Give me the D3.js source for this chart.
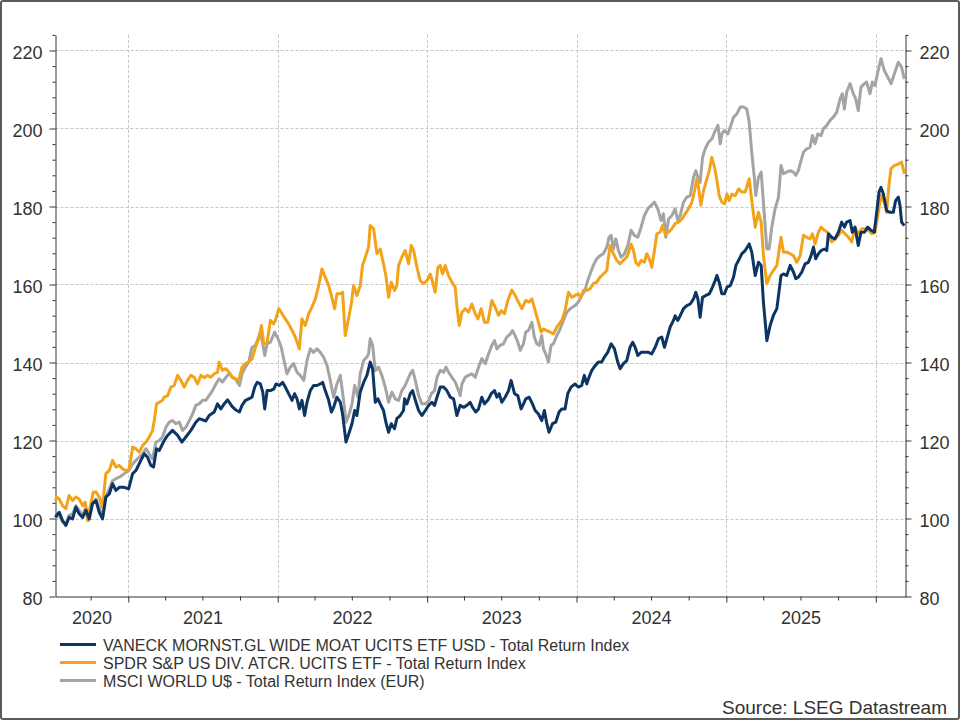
<!doctype HTML>
<html>
<head>
    <style>
        body { margin: 0; background: #fff; }
        text { font-family: "Liberation Sans", Arial, sans-serif; fill: #333; }
    </style>
    <script src="https://d3js.org/d3.v7.min.js"></script>
</head>
<body>
<div id="chart"></div>
<script>

    // series values, as [decimal year, index value]
    var vaneck = [[2020.514,100.3],[2020.521,100.8],[2020.539,101.6],[2020.561,99.5],[2020.583,98.2],[2020.605,100.3],[2020.628,99.9],[2020.650,102.9],[2020.672,101.2],[2020.695,100.3],[2020.717,102.1],[2020.739,99.9],[2020.761,103.8],[2020.784,104.6],[2020.806,101.6],[2020.828,99.9],[2020.850,105.5],[2020.873,106.3],[2020.895,108.9],[2020.917,107.2],[2020.940,108.0],[2020.973,108.0],[2021.002,107.6],[2021.029,111.5],[2021.051,112.3],[2021.084,114.9],[2021.107,116.6],[2021.129,115.7],[2021.151,113.6],[2021.169,113.2],[2021.189,117.9],[2021.207,117.4],[2021.240,120.0],[2021.263,121.3],[2021.296,122.6],[2021.330,121.3],[2021.359,119.6],[2021.385,120.9],[2021.419,122.6],[2021.452,124.7],[2021.474,125.6],[2021.519,125.0],[2021.541,126.4],[2021.575,127.3],[2021.597,129.4],[2021.619,128.1],[2021.642,129.4],[2021.664,130.4],[2021.697,128.6],
        [2021.717,127.9],[2021.744,127.3],[2021.761,129.0],[2021.784,130.3],[2021.806,130.7],[2021.828,131.1],[2021.846,133.7],[2021.862,134.9],[2021.884,134.5],[2021.900,132.4],[2021.913,128.1],[2021.929,132.8],[2021.951,132.8],[2021.973,133.2],[2021.989,134.5],[2022.011,134.1],[2022.033,134.9],[2022.051,133.7],[2022.073,132.0],[2022.096,130.3],[2022.113,132.0],[2022.129,130.7],[2022.145,128.1],[2022.162,130.3],[2022.180,126.4],[2022.196,129.8],[2022.218,132.8],[2022.240,134.1],[2022.263,134.1],[2022.285,134.5],[2022.301,134.9],[2022.318,132.8],[2022.341,130.3],[2022.359,127.3],[2022.374,128.5],[2022.396,131.1],[2022.419,129.8],[2022.434,126.8],[2022.457,119.6],[2022.479,122.1],[2022.497,124.3],[2022.515,127.7],[2022.530,126.4],[2022.552,132.4],[2022.575,134.9],[2022.597,136.7],[2022.619,140.1],[2022.635,138.4],[2022.653,129.8],[2022.671,130.7],[2022.686,129.4],[2022.708,127.7],[2022.724,124.7],[2022.742,122.1],[2022.760,124.3],[2022.782,123.0],[2022.797,125.6],[2022.820,126.4],[2022.842,127.7],
        [2022.849,130.7],[2022.865,129.4],[2022.887,132.0],[2022.903,132.8],[2022.921,130.3],[2022.943,127.7],[2022.965,126.4],[2022.988,127.7],[2023.010,129.0],[2023.032,129.8],[2023.050,129.0],[2023.066,131.1],[2023.088,133.7],[2023.110,133.7],[2023.132,132.8],[2023.155,131.1],[2023.177,130.7],[2023.199,126.4],[2023.221,129.0],[2023.244,128.5],[2023.266,129.0],[2023.288,129.8],[2023.304,128.5],[2023.326,127.3],[2023.344,128.1],[2023.366,131.1],[2023.384,129.4],[2023.406,130.3],[2023.429,132.0],[2023.451,132.8],[2023.467,131.1],[2023.482,132.0],[2023.500,129.8],[2023.522,131.1],[2023.545,132.8],[2023.562,135.4],[2023.585,132.0],[2023.607,131.5],[2023.629,128.1],[2023.645,129.4],[2023.660,130.7],[2023.683,131.1],[2023.705,129.4],[2023.723,127.7],[2023.745,126.8],[2023.767,125.1],[2023.785,127.7],[2023.801,124.3],[2023.816,122.1],[2023.839,124.3],[2023.861,124.7],[2023.883,127.3],[2023.901,128.1],[2023.923,128.1],[2023.941,132.0],[2023.963,133.7],[2023.990,134.5],
        [2024.012,133.7],[2024.034,134.1],[2024.052,136.7],[2024.068,134.5],[2024.083,136.2],[2024.101,137.9],[2024.124,139.2],[2024.146,140.1],[2024.168,140.1],[2024.186,141.4],[2024.208,142.6],[2024.231,144.8],[2024.253,143.5],[2024.275,140.1],[2024.291,138.4],[2024.313,139.7],[2024.335,140.5],[2024.357,143.9],[2024.375,145.2],[2024.391,143.9],[2024.409,141.8],[2024.431,142.6],[2024.458,142.6],[2024.480,142.6],[2024.502,142.2],[2024.525,143.9],[2024.547,146.1],[2024.569,146.5],[2024.587,143.9],[2024.603,146.1],[2024.625,149.1],[2024.647,150.8],[2024.658,152.0],[2024.676,150.8],[2024.692,152.0],[2024.714,153.8],[2024.736,154.6],[2024.759,155.0],[2024.781,156.3],[2024.796,158.0],[2024.810,156.3],[2024.825,151.6],[2024.841,156.7],[2024.863,157.2],[2024.886,157.6],[2024.903,158.9],[2024.921,160.6],[2024.937,162.3],[2024.952,160.6],[2024.970,157.6],[2024.988,157.6],[2025.004,159.3],[2025.026,159.7],[2025.048,161.9],[2025.064,164.9],[2025.082,166.2],[2025.104,167.9],[2025.126,168.7],
        [2025.153,170.4],[2025.170,168.3],[2025.193,162.3],[2025.215,165.7],[2025.233,164.9],[2025.248,155.5],[2025.271,145.6],[2025.293,149.5],[2025.315,152.1],[2025.338,153.8],[2025.366,162.3],[2025.382,162.7],[2025.404,162.3],[2025.427,164.9],[2025.449,163.2],[2025.465,161.5],[2025.482,161.9],[2025.505,163.2],[2025.527,165.3],[2025.549,165.7],[2025.567,167.4],[2025.583,169.6],[2025.598,166.6],[2025.616,167.9],[2025.634,168.7],[2025.656,169.1],[2025.672,168.7],[2025.683,173.0],[2025.705,172.1],[2025.727,171.7],[2025.750,173.4],[2025.772,176.0],[2025.790,174.7],[2025.805,176.0],[2025.828,176.4],[2025.843,173.4],[2025.861,174.7],[2025.883,170.0],[2025.901,173.4],[2025.924,173.4],[2025.946,174.7],[2025.968,173.9],[2025.990,173.4],[2026.006,178.5],[2026.022,183.7],[2026.035,184.9],[2026.051,183.2],[2026.073,178.9],[2026.095,178.5],[2026.117,178.5],[2026.133,181.5],[2026.151,182.4],[2026.162,180.3],[2026.173,176.0],[2026.191,175.1]];

    var spdr = [[2020.514,104.5],[2020.521,105.5],[2020.539,105.0],[2020.561,103.3],[2020.583,102.5],[2020.605,105.9],[2020.628,104.6],[2020.650,105.5],[2020.672,105.0],[2020.695,103.3],[2020.712,104.2],[2020.728,99.5],[2020.750,103.8],[2020.766,106.8],[2020.784,106.8],[2020.806,105.5],[2020.828,102.9],[2020.850,111.5],[2020.873,112.3],[2020.895,114.9],[2020.917,113.2],[2020.940,113.6],[2020.962,112.7],[2020.984,112.3],[2021.002,112.3],[2021.018,115.7],[2021.029,118.3],[2021.051,117.9],[2021.073,117.0],[2021.096,118.7],[2021.118,119.6],[2021.140,120.9],[2021.162,122.6],[2021.174,125.1],[2021.189,129.4],[2021.207,129.8],[2021.229,130.3],[2021.240,131.1],[2021.263,131.5],[2021.285,133.7],[2021.307,134.1],[2021.330,136.7],[2021.352,135.4],[2021.374,133.7],[2021.396,135.4],[2021.419,136.7],[2021.441,136.2],[2021.463,134.5],[2021.486,136.7],[2021.508,136.1],[2021.530,136.7],[2021.552,136.2],[2021.575,137.1],[2021.597,137.5],[2021.608,140.1],[2021.630,138.0],[2021.653,138.4],[2021.675,137.5],[2021.697,136.2],
        [2021.717,135.8],[2021.739,135.4],[2021.761,138.8],[2021.784,139.7],[2021.806,140.1],[2021.828,140.9],[2021.851,143.9],[2021.873,146.1],[2021.891,149.5],[2021.906,144.8],[2021.929,145.2],[2021.951,150.8],[2021.973,149.9],[2021.984,150.8],[2022.007,153.8],[2022.029,152.5],[2022.051,151.2],[2022.073,149.9],[2022.096,148.2],[2022.118,146.5],[2022.145,143.5],[2022.162,151.2],[2022.185,149.5],[2022.207,152.5],[2022.229,154.2],[2022.252,156.3],[2022.274,159.7],[2022.296,164.0],[2022.318,161.9],[2022.341,159.7],[2022.359,157.2],[2022.381,153.8],[2022.396,157.6],[2022.419,157.6],[2022.434,158.0],[2022.452,146.9],[2022.474,151.2],[2022.492,155.0],[2022.508,159.7],[2022.530,157.2],[2022.552,159.7],[2022.568,164.9],[2022.586,167.0],[2022.608,169.6],[2022.619,175.1],[2022.642,174.3],[2022.664,167.9],[2022.686,169.1],[2022.708,165.3],[2022.724,162.3],[2022.742,156.7],[2022.760,160.6],[2022.782,158.5],[2022.797,159.7],[2022.809,164.9],[2022.831,167.0],[2022.853,168.7],
        [2022.876,165.3],[2022.894,170.0],[2022.910,168.7],[2022.932,164.4],[2022.954,161.0],[2022.976,160.2],[2022.999,161.0],[2023.021,162.7],[2023.037,160.6],[2023.054,158.0],[2023.072,164.4],[2023.088,164.9],[2023.103,162.7],[2023.121,164.9],[2023.143,162.3],[2023.166,160.6],[2023.188,159.3],[2023.199,154.6],[2023.215,149.5],[2023.233,152.9],[2023.255,153.8],[2023.277,152.9],[2023.299,155.0],[2023.322,152.5],[2023.340,151.2],[2023.362,153.8],[2023.384,150.3],[2023.406,150.3],[2023.433,155.9],[2023.455,154.2],[2023.478,152.1],[2023.496,153.3],[2023.518,152.5],[2023.540,155.9],[2023.567,158.6],[2023.589,157.2],[2023.611,155.5],[2023.634,153.8],[2023.660,155.9],[2023.683,155.5],[2023.701,156.3],[2023.723,153.3],[2023.745,150.3],[2023.763,147.8],[2023.779,148.6],[2023.801,148.2],[2023.823,147.8],[2023.845,147.3],[2023.868,149.1],[2023.901,150.8],[2023.923,153.3],[2023.946,158.0],[2023.968,156.7],[2023.990,157.2],
        [2024.012,157.6],[2024.030,156.7],[2024.046,158.5],[2024.068,158.5],[2024.090,158.9],[2024.112,160.2],[2024.135,160.6],[2024.157,161.9],[2024.179,162.7],[2024.202,163.6],[2024.213,167.0],[2024.224,170.0],[2024.246,167.9],[2024.268,166.2],[2024.291,165.3],[2024.313,166.2],[2024.335,167.0],[2024.351,168.7],[2024.364,170.4],[2024.380,168.7],[2024.395,165.7],[2024.413,164.9],[2024.431,166.2],[2024.453,165.7],[2024.469,167.9],[2024.485,166.6],[2024.502,164.4],[2024.520,168.7],[2024.536,173.0],[2024.558,173.4],[2024.574,175.1],[2024.591,173.0],[2024.614,173.4],[2024.636,174.3],[2024.658,175.6],[2024.681,176.0],[2024.703,176.8],[2024.725,178.1],[2024.747,179.4],[2024.770,181.1],[2024.788,184.1],[2024.803,187.1],[2024.814,184.9],[2024.830,180.3],[2024.848,184.1],[2024.870,187.1],[2024.886,189.2],[2024.903,192.6],[2024.921,190.1],[2024.937,186.7],[2024.952,182.8],[2024.970,181.1],[2024.988,180.7],[2025.004,183.2],[2025.019,181.5],[2025.037,183.2],[2025.059,182.8],[2025.082,184.5],[2025.104,183.7],[2025.126,183.7],
        [2025.153,187.1],[2025.170,181.5],[2025.193,174.7],[2025.215,178.5],[2025.233,176.0],[2025.248,167.4],[2025.271,160.2],[2025.293,162.3],[2025.315,163.6],[2025.338,164.9],[2025.366,172.1],[2025.382,168.3],[2025.404,168.3],[2025.427,167.9],[2025.449,167.4],[2025.471,165.7],[2025.494,167.4],[2025.516,172.6],[2025.538,172.1],[2025.560,171.7],[2025.576,173.0],[2025.594,170.4],[2025.616,173.4],[2025.634,174.7],[2025.656,173.9],[2025.678,173.4],[2025.705,170.9],[2025.727,171.7],[2025.750,172.6],[2025.772,173.9],[2025.794,173.0],[2025.817,172.1],[2025.839,170.9],[2025.861,174.7],[2025.883,173.0],[2025.906,174.3],[2025.928,174.3],[2025.950,173.9],[2025.973,173.0],[2025.995,173.4],[2026.017,178.5],[2026.035,182.8],[2026.057,181.1],[2026.073,178.5],[2026.088,185.4],[2026.102,189.7],[2026.124,190.5],[2026.151,190.9],[2026.173,191.4],[2026.191,188.4]];

    var msci = [[2020.514,100.0],[2020.521,100.3],[2020.539,100.8],[2020.561,99.1],[2020.583,98.6],[2020.605,100.8],[2020.628,101.2],[2020.650,103.3],[2020.672,102.1],[2020.695,100.8],[2020.717,102.9],[2020.735,99.5],[2020.761,103.8],[2020.784,105.0],[2020.806,102.9],[2020.828,100.3],[2020.850,105.5],[2020.873,107.6],[2020.895,109.7],[2020.917,110.2],[2020.940,110.6],[2020.973,111.5],[2021.002,112.3],[2021.029,114.0],[2021.051,114.9],[2021.073,115.7],[2021.096,116.6],[2021.118,117.9],[2021.140,116.6],[2021.162,115.3],[2021.185,119.6],[2021.207,120.0],[2021.229,120.9],[2021.252,123.4],[2021.274,124.7],[2021.296,125.1],[2021.318,124.3],[2021.341,124.7],[2021.363,122.6],[2021.385,123.4],[2021.408,125.1],[2021.430,126.8],[2021.452,129.0],[2021.474,129.4],[2021.497,130.3],[2021.519,130.3],[2021.541,131.5],[2021.563,132.8],[2021.586,134.5],[2021.608,135.8],[2021.630,135.0],[2021.653,136.2],[2021.675,137.1],[2021.697,136.2],
        [2021.717,135.8],[2021.744,134.1],[2021.761,137.1],[2021.784,138.8],[2021.806,140.1],[2021.828,143.9],[2021.851,144.4],[2021.873,146.5],[2021.884,147.8],[2021.900,144.8],[2021.913,141.8],[2021.929,144.8],[2021.951,145.2],[2021.980,147.8],[2022.002,146.1],[2022.024,143.9],[2022.040,140.9],[2022.062,137.1],[2022.084,138.8],[2022.107,139.7],[2022.129,137.5],[2022.151,136.7],[2022.174,135.4],[2022.196,140.5],[2022.218,143.5],[2022.240,142.6],[2022.263,143.5],[2022.285,142.6],[2022.307,141.4],[2022.330,139.2],[2022.352,135.4],[2022.374,131.1],[2022.396,134.5],[2022.419,136.7],[2022.441,130.3],[2022.457,124.7],[2022.479,126.8],[2022.497,129.4],[2022.515,134.1],[2022.537,131.1],[2022.552,137.1],[2022.575,140.5],[2022.597,141.4],[2022.608,142.2],[2022.619,146.1],[2022.635,144.4],[2022.653,137.9],[2022.675,138.8],[2022.697,136.7],[2022.720,133.7],[2022.742,129.8],[2022.764,132.4],[2022.786,130.7],[2022.809,130.3],[2022.831,132.8],[2022.853,134.1],
        [2022.887,137.1],[2022.903,138.0],[2022.921,135.4],[2022.943,131.5],[2022.965,129.4],[2022.988,129.4],[2023.010,130.2],[2023.028,132.0],[2023.050,132.8],[2023.066,136.2],[2023.088,138.0],[2023.110,137.5],[2023.126,138.8],[2023.144,137.5],[2023.166,136.2],[2023.188,135.0],[2023.210,132.8],[2023.221,131.5],[2023.233,134.5],[2023.255,136.2],[2023.277,136.7],[2023.299,137.1],[2023.322,136.2],[2023.344,138.8],[2023.366,141.0],[2023.389,139.7],[2023.411,142.2],[2023.433,144.4],[2023.451,145.6],[2023.467,143.5],[2023.489,144.4],[2023.511,144.8],[2023.533,146.5],[2023.556,147.3],[2023.571,148.2],[2023.589,146.9],[2023.607,145.2],[2023.623,143.1],[2023.645,144.8],[2023.660,147.8],[2023.678,148.2],[2023.701,150.3],[2023.718,146.5],[2023.734,144.8],[2023.750,144.4],[2023.767,146.9],[2023.779,143.5],[2023.794,142.2],[2023.812,140.1],[2023.830,144.4],[2023.845,144.8],[2023.868,146.9],[2023.890,148.6],[2023.912,150.8],[2023.935,152.9],[2023.957,153.8],[2023.990,154.6],
        [2024.012,155.5],[2024.034,157.2],[2024.057,158.5],[2024.068,160.2],[2024.090,162.7],[2024.112,164.9],[2024.135,166.6],[2024.157,167.4],[2024.179,167.9],[2024.202,169.6],[2024.217,172.1],[2024.231,172.6],[2024.246,169.1],[2024.262,171.7],[2024.280,168.7],[2024.297,167.0],[2024.320,167.9],[2024.342,170.0],[2024.364,173.9],[2024.386,172.6],[2024.409,172.1],[2024.431,174.7],[2024.453,177.7],[2024.476,179.4],[2024.498,180.3],[2024.520,181.1],[2024.542,179.4],[2024.565,176.4],[2024.580,178.1],[2024.596,172.1],[2024.614,176.8],[2024.636,177.7],[2024.658,179.4],[2024.676,176.4],[2024.692,177.7],[2024.714,181.1],[2024.736,182.4],[2024.759,182.8],[2024.781,187.5],[2024.796,189.2],[2024.810,187.5],[2024.825,186.2],[2024.841,192.6],[2024.859,194.8],[2024.881,196.5],[2024.903,197.3],[2024.926,199.5],[2024.944,200.8],[2024.959,196.1],[2024.970,198.6],[2024.988,199.5],[2025.010,198.6],[2025.026,200.3],[2025.048,202.9],[2025.071,203.8],[2025.093,205.5],[2025.115,205.5],
        [2025.137,205.0],[2025.153,201.6],[2025.170,193.9],[2025.188,187.1],[2025.197,182.8],[2025.215,187.5],[2025.233,188.8],[2025.248,181.1],[2025.271,169.1],[2025.286,169.1],[2025.304,174.7],[2025.326,179.4],[2025.349,182.4],[2025.366,190.5],[2025.382,188.4],[2025.404,188.8],[2025.427,189.2],[2025.449,188.8],[2025.465,188.0],[2025.482,189.2],[2025.500,191.8],[2025.516,193.9],[2025.538,194.8],[2025.560,195.2],[2025.576,198.2],[2025.594,196.1],[2025.612,198.6],[2025.634,198.2],[2025.649,199.9],[2025.672,200.8],[2025.694,202.1],[2025.716,202.9],[2025.739,204.2],[2025.761,207.6],[2025.776,208.9],[2025.790,205.0],[2025.805,209.3],[2025.828,211.5],[2025.850,208.9],[2025.866,207.6],[2025.883,204.6],[2025.901,210.6],[2025.924,211.5],[2025.939,211.9],[2025.961,208.9],[2025.977,211.9],[2025.995,211.0],[2026.013,214.4],[2026.035,217.9],[2026.057,214.9],[2026.080,213.2],[2026.102,211.5],[2026.124,214.0],[2026.151,217.0],[2026.173,215.7],[2026.191,212.7]];

    var seriesNames = ["VANECK MORNST.GL WIDE MOAT UCITS ETF USD - Total Return Index",
        "SPDR S&P US DIV. ATCR. UCITS ETF - Total Return Index",
        "MSCI WORLD U$ - Total Return Index (EUR)"];
    var seriesColors = ["#0c3563", "#f2a31b", "#a4a4a4"];
    var yTicks = [80, 100, 120, 140, 160, 180, 200, 220];
    var yearLabels = [2020, 2021, 2022, 2023, 2024, 2025, 2026];
    var startYear = 2020.514, endYear = 2026.199;

    // setup the canvas
    var canvasWidth = 960;
    var canvasHeight = 720;

    var svg = d3.select("#chart").append("svg")
        .attr("width", canvasWidth)
        .attr("height", canvasHeight);

    svg.append("rect")
        .attr("x", 1).attr("y", 1)
        .attr("width", canvasWidth - 2).attr("height", canvasHeight - 2)
        .attr("rx", 2)
        .attr("fill", "#fff")
        .attr("stroke", "#5a5a5a")
        .attr("stroke-width", 2);

    // decimal year -> Date
    function toDate(yr) {
        var y0 = Math.floor(yr);
        var a = new Date(y0, 0, 1), b = new Date(y0 + 1, 0, 1);
        return new Date(+a + (yr - y0) * (b - a));
    }

    var left = 55.5, right = 905.5, bottom = 596.5;

    var x = d3.scaleTime()
        .domain([toDate(startYear), toDate(endYear)])
        .range([left, right]);

    var y = d3.scaleLinear()
        .domain([80, 224])
        .range([bottom, bottom - 144 * 3.9]);

    // gridlines
    var yearStarts = d3.timeYear.range(toDate(startYear), toDate(endYear));
    svg.append("g").selectAll("line")
        .data(yTicks.filter(d => d > 80))
        .join("line")
        .attr("x1", left).attr("x2", right)
        .attr("y1", d => Math.round(y(d)) + 0.5)
        .attr("y2", d => Math.round(y(d)) + 0.5)
        .attr("stroke", "#c6c6c6")
        .attr("stroke-dasharray", "3,2");

    svg.append("g").selectAll("line")
        .data(yearStarts)
        .join("line")
        .attr("x1", d => Math.round(x(d)) + 0.5)
        .attr("x2", d => Math.round(x(d)) + 0.5)
        .attr("y1", y(224)).attr("y2", bottom)
        .attr("stroke", "#c6c6c6")
        .attr("stroke-dasharray", "3,2");

    // y axes, left and right
    var minorY = d3.range(80, 225, 4).filter(d => d % 20 !== 0);

    function styleAxis(g) {
        g.selectAll("path, line").attr("stroke", "#333");
        g.selectAll("text").attr("font-size", "18px").attr("fill", "#333")
            .attr("font-family", "'Liberation Sans', Arial, sans-serif");
    }

    var yl = svg.append("g").attr("transform", "translate(" + left + ",0)")
        .call(d3.axisLeft(y).tickValues(yTicks).tickSize(6).tickSizeOuter(0).tickPadding(7));
    yl.selectAll("text").attr("dy", "0.45em");
    styleAxis(yl);
    var ylm = svg.append("g").attr("transform", "translate(" + left + ",0)")
        .call(d3.axisLeft(y).tickValues(minorY).tickSize(3).tickFormat(""));
    ylm.select(".domain").remove();
    styleAxis(ylm);

    var yr = svg.append("g").attr("transform", "translate(" + right + ",0)")
        .call(d3.axisRight(y).tickValues(yTicks).tickSize(6).tickSizeOuter(0).tickPadding(8));
    yr.selectAll("text").attr("dy", "0.45em");
    styleAxis(yr);
    var yrm = svg.append("g").attr("transform", "translate(" + right + ",0)")
        .call(d3.axisRight(y).tickValues(minorY).tickSize(3).tickFormat(""));
    yrm.select(".domain").remove();
    styleAxis(yrm);

    // x axis: quarter ticks and year ticks
    var quarters = d3.timeMonth.every(3).range(toDate(startYear), toDate(endYear))
        .filter(d => d.getMonth() !== 0);
    var xb = svg.append("g").attr("transform", "translate(0," + bottom + ")")
        .call(d3.axisBottom(x).tickValues(yearStarts).tickSize(6).tickSizeOuter(0).tickFormat(""));
    styleAxis(xb);
    var xbm = svg.append("g").attr("transform", "translate(0," + bottom + ")")
        .call(d3.axisBottom(x).tickValues(quarters).tickSize(4).tickFormat(""));
    xbm.select(".domain").remove();
    styleAxis(xbm);

    // year labels centred on the visible part of each year
    var yearSpans = yearLabels.map(function (yv) {
        var a = Math.max(x(new Date(yv, 0, 1)), left);
        var b = Math.min(x(new Date(yv + 1, 0, 1)), right);
        return { year: yv, a: a, b: b };
    }).filter(d => d.b - d.a > 50);

    svg.append("g").selectAll("text")
        .data(yearSpans)
        .join("text")
        .attr("x", d => (d.a + d.b) / 2)
        .attr("y", 624)
        .attr("text-anchor", "middle")
        .attr("font-size", "18px")
        .text(d => d.year);

    // lines
    var line = d3.line()
        .x(d => x(toDate(d[0])))
        .y(d => y(d[1]));

    var allSeries = [vaneck, spdr, msci];
    [2, 1, 0].forEach(function (i) {
        svg.append("path")
            .datum(allSeries[i])
            .attr("fill", "none")
            .attr("stroke", seriesColors[i])
            .attr("stroke-width", 3)
            .attr("stroke-linejoin", "round")
            .attr("d", line);
    });

    // legend
    var legend = svg.append("g").selectAll("g")
        .data(seriesNames)
        .join("g")
        .attr("transform", (d, i) => "translate(60," + (644.5 + i * 18) + ")");
    legend.append("line")
        .attr("x1", 0).attr("x2", 36)
        .attr("stroke", (d, i) => seriesColors[i])
        .attr("stroke-width", 3);
    legend.append("text")
        .attr("x", 43).attr("y", 6.5)
        .attr("font-size", "16px")
        .text(d => d);

    svg.append("text")
        .attr("x", 947).attr("y", 714)
        .attr("text-anchor", "end")
        .attr("font-size", "19px")
        .text("Source: LSEG Datastream");

</script>
</body>
</html>
